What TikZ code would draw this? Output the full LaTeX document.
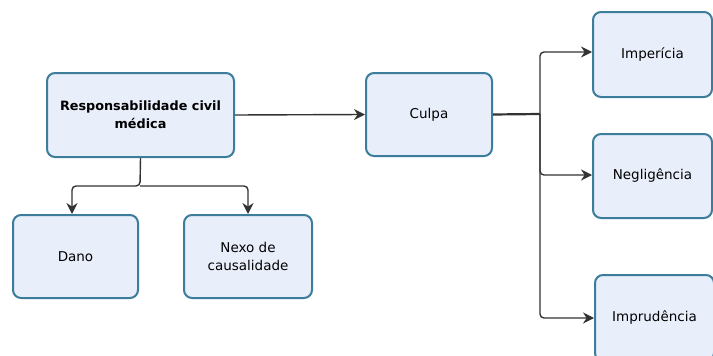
\documentclass[tikz,border=0pt]{standalone}
\usepackage{fontspec}
\setmainfont{DejaVu Sans}
\usetikzlibrary{arrows.meta}
\definecolor{boxfill}{HTML}{E9EEFB}
\definecolor{boxline}{HTML}{3C7D9C}
\definecolor{conn}{HTML}{333333}
\tikzset{
  box/.style={draw=boxline, fill=boxfill, line width=2pt, rounded corners=8pt,
    align=center, font=\fontsize{13.5}{18}\selectfont, inner sep=0pt},
  conn/.style={draw=conn, line width=1.4pt, rounded corners=4pt,
    -{Stealth[length=11pt,width=11pt]}},
}
\begin{document}
\begin{tikzpicture}[x=1pt,y=-1pt]
\clip (0,0) rectangle (713,356);
\fill[white] (0,0) rectangle (713,356);
\node[box, minimum width=187pt, minimum height=84pt, font=\fontsize{12.8}{18}\selectfont\bfseries] (resp) at (140.5,115) {Responsabilidade civil\\médica};
\node[box, minimum width=125pt, minimum height=83pt] (dano) at (75.5,256.5) {Dano};
\node[box, minimum width=128pt, minimum height=83pt] (nexo) at (248,256.5) {Nexo de\\causalidade};
\node[box, minimum width=126pt, minimum height=83pt] (culpa) at (429,114.5) {Culpa};
\node[box, minimum width=119pt, minimum height=85pt] (imp) at (652.5,54.5) {Imperícia};
\node[box, minimum width=119pt, minimum height=84pt] (neg) at (652.5,176) {Negligência};
\node[box, minimum width=119pt, minimum height=86pt] (impr) at (654.5,318) {Imprudência};
\coordinate (j1) at (140,186);
\coordinate (j2) at (540,114);
\draw[conn] (resp.south) -- (j1) -| (dano.north -| 72,0);
\draw[conn] (j1) -| (nexo.north);
\draw[conn] (resp.east) -- (culpa.west);
\draw[conn, line width=2.2pt, -] (culpa.east) -- (j2);
\draw[conn] (j2) |- (imp.west |- 0,52);
\draw[conn] (j2) |- (neg.west |- 0,175);
\draw[conn] (j2) |- (impr.west |- 0,318);
\end{tikzpicture}
\end{document}
